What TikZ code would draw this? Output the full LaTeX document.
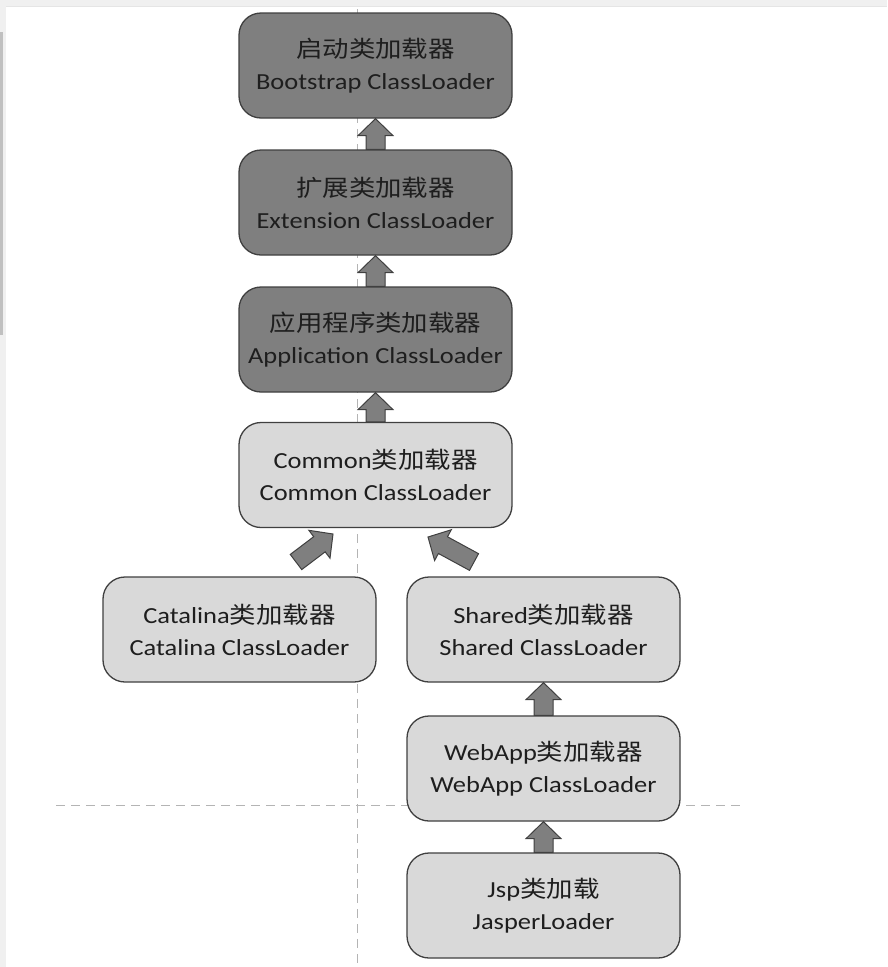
\documentclass[tikz,border=0pt]{standalone}
\usepackage{fontspec}
\setmainfont{Carlito}[FakeStretch=1.15]
\newfontfamily\cjk{Noto Sans CJK SC}[FakeStretch=1.15]
\usetikzlibrary{calc}
\definecolor{darkfill}{HTML}{7F7F7F}
\definecolor{lightfill}{HTML}{D9D9D9}
\definecolor{edgecol}{HTML}{404040}
\definecolor{guide}{HTML}{B4B4B4}
\definecolor{framebg}{HTML}{F0F0F0}
\definecolor{scrollcol}{HTML}{C0C0C0}
\definecolor{txt}{HTML}{1E1E1E}
\tikzset{
 loader/.style={draw=edgecol, line width=1.3pt, rounded corners=22pt, minimum width=273pt,
   minimum height=105pt, align=center, text=txt, font=\fontsize{23}{32}\selectfont, inner sep=0pt},
 darkbox/.style={loader, fill=darkfill},
 lightbox/.style={loader, fill=lightfill},
 barrow/.style={draw=edgecol, line width=1pt, fill=darkfill, line join=miter},
 guideline/.style={draw=guide, line width=1pt, dash pattern=on 9pt off 6pt},
}
\newcommand\blockarr[2]{%
 \path (#1); \pgfgetlastxy{\ax}{\ay}%
 \path (#2); \pgfgetlastxy{\bx}{\by}%
 \pgfmathsetmacro\ang{atan2(\by-\ay,\bx-\ax)}%
 \pgfmathsetmacro\len{veclen(\bx-\ax,\by-\ay)}%
 \pgfmathsetmacro\hb{\len-17}%
 \draw[barrow, shift={(#1)}, rotate=\ang] (0pt,-9.5pt) -- (\hb pt,-9.5pt) -- (\hb pt,-17.5pt)
   -- (\len pt,0pt) -- (\hb pt,17.5pt) -- (\hb pt,9.5pt) -- (0pt,9.5pt) -- cycle;}
\begin{document}
\begin{tikzpicture}[x=1pt,y=-1pt]
\useasboundingbox (0,0) rectangle (887,967);
\fill[white] (0,0) rectangle (887,967);
\fill[framebg] (0,0) rectangle (887,6);
\draw[color=black!10, line width=1pt] (6,6.5) -- (887,6.5);
\fill[framebg] (0,6) rectangle (6,967);
\fill[scrollcol] (0,32) rectangle (3,335);
% guide lines
\draw[guideline] (357,9) -- (357,967);
\draw[guideline] (56,805) -- (745,805);
% loaders
\node[darkbox] (boot) at (375.5,65.5) {{\cjk 启动类加载器}\\Bootstrap ClassLoader};
\node[darkbox] (ext) at (375.5,202.5) {{\cjk 扩展类加载器}\\Extension ClassLoader};
\node[darkbox] (app) at (375.5,339.5) {{\cjk 应用程序类加载器}\\Application ClassLoader};
\node[lightbox] (common) at (375.5,475) {Common{\cjk 类加载器}\\Common ClassLoader};
\node[lightbox] (catalina) at (239.5,629.5) {Catalina{\cjk 类加载器}\\Catalina ClassLoader};
\node[lightbox] (shared) at (543.5,629.5) {Shared{\cjk 类加载器}\\Shared ClassLoader};
\node[lightbox] (webapp) at (543.5,768.5) {WebApp{\cjk 类加载器}\\WebApp ClassLoader};
\node[lightbox] (jsp) at (543.5,905.5) {Jsp{\cjk 类加载}\\JasperLoader};
% diagonal arrow ends
\coordinate (catTail) at (296,562);
\coordinate (catTip) at (333,534);
\coordinate (shTail) at (474,562);
\coordinate (shTip) at (428,537);
% arrows
\blockarr{ext.north}{boot.south}
\blockarr{app.north}{ext.south}
\blockarr{common.north}{app.south}
\blockarr{catTail}{catTip}
\blockarr{shTail}{shTip}
\blockarr{webapp.north}{shared.south}
\blockarr{jsp.north}{webapp.south}
\end{tikzpicture}
\end{document}
